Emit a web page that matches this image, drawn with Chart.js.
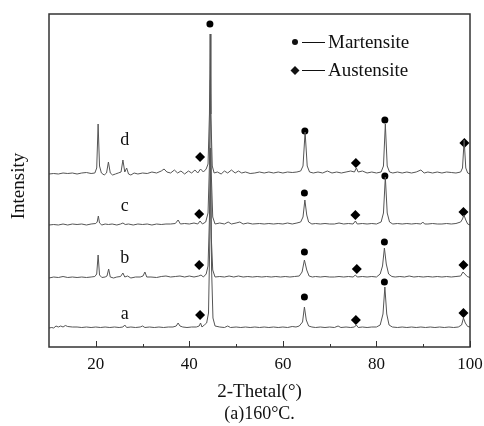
<!DOCTYPE html>
<html>
<head>
<meta charset="utf-8">
<script src="https://cdn.jsdelivr.net/npm/chart.js@4.4.1/dist/chart.umd.min.js"></script>
<style>
  html, body { margin: 0; padding: 0; background: #fff; }
  #xrd { display: block; }
</style>
</head>
<body>
<canvas id="xrd" width="484" height="426"></canvas>
<script>
// --- data (2θ, relative intensity above each pattern's own baseline) ---
const traceA = [
  [10,0],[10.6,0.5],[11,0],[11.5,2],[12,1],[12.5,2],[13,1],[13.5,2.5],[14,1.5],[15,1],[16,1],[17,0.5],[18,1],[19,0.5],
  [20,1],[21,0.5],[22,1],[23,0.5],[24,1],[25,0.5],[25.8,1],[26.2,3],[26.6,0.5],[27.5,1],[28.5,0.5],[29.5,1],[30,2],
  [30.5,0.5],[31.5,1],[32.5,0.5],[33.5,1],[34.5,0.5],[35.5,1],[36.5,1],[37.2,2],[37.6,5],[38,2],[38.6,1],[39.5,0.5],
  [40.5,1],[41.5,1],[42.1,2],[42.4,5],[42.7,1],[43.2,3],[43.7,5],[44.1,15],[44.35,80],[44.55,160],[44.75,60],[45.05,10],
  [45.5,2],[46.5,1],[47.5,0.5],[48.2,2],[48.8,0.5],[50,1],[51,0.5],[52,1],[53,0.5],[54,1],[55,0.5],[56,1],[57,0.5],
  [58,1],[59,0.5],[60,1],[61,0.5],[62,1.5],[62.8,1],[63.5,2],[64.2,6],[64.6,21],[65,8],[65.5,2],[66.2,1],[67,0.5],
  [68,1],[69,0.5],[70,1],[71,0.5],[71.8,2],[72.4,0.5],[73.5,1],[74.5,0.5],[75.3,1],[75.7,3],[76.1,0.5],[77,1],[78,0.5],
  [79,1],[80,1],[80.8,3],[81.4,14],[81.8,41],[82.2,14],[82.7,3],[83.4,1],[84.5,0.5],[85.5,1],[86.5,0.5],[87.5,1],
  [88.5,0.5],[89.5,1],[90.5,0.5],[91.5,1],[92.5,0.5],[93.5,1],[94.5,0.5],[95.5,1],[96.5,0.5],[97.5,1],[98.2,3],
  [98.6,10],[99,5],[99.5,1.5],[100,1]
];
const traceB = [
  [10,0],[11,1],[12,0.5],[13,1.5],[14,0.5],[15,1],[16,0.5],[17,1],[18,0.5],[19,1],[19.8,1.5],[20.2,4],[20.5,23],
  [20.8,3],[21.3,0.5],[22,1],[22.4,2],[22.75,9],[23.1,1],[23.8,0],[24.5,1],[25.3,1.5],[25.8,5],[26.2,1],[26.8,2],
  [27.5,0],[28.5,1],[29.5,1],[30.1,2],[30.5,6],[30.9,1],[31.8,1],[33,0.5],[34,1.5],[35,2],[36,1],[37,1.5],[38,2],
  [39,1],[40,2],[41,1],[42,2],[42.5,3],[43,1],[43.6,4],[44,12],[44.3,60],[44.5,130],[44.7,40],[45,8],[45.5,1],
  [46.5,1.5],[47.5,1],[48.5,2],[49.5,1],[50.5,2],[51.5,1],[52.5,1.5],[53.5,1],[54.5,1.5],[55.5,1],[56.5,1.5],[57.5,1],
  [58.5,1.5],[59.5,1],[60.5,1.5],[61.5,1],[62.5,1.5],[63.5,2],[64.1,6],[64.6,18],[65.1,8],[65.6,2],[66.3,1],[67,1.5],
  [68,1],[69,1.5],[70,1],[71,1],[72,1.5],[73,1],[74,1.5],[75,1],[75.5,3],[75.9,1],[77,1.5],[78,1],[79,1.5],[80,1],
  [80.8,4],[81.3,12],[81.7,30],[82.1,14],[82.6,4],[83.3,1.5],[84,1],[85,1.5],[86,1],[87,2],[88,1],[89,1.5],[90,1],
  [91,1.5],[92,1],[93,1.5],[94,1],[95,1.5],[96,1],[97,1.5],[98,2],[98.5,6],[98.9,4],[99.4,1.5],[100,0.5]
];
const traceC = [
  [10,0],[11,0.5],[12,0],[13,1],[14,0],[15,1],[16,0.5],[17,1],[18,0],[19,1],[20,1.5],[20.3,3],[20.55,9],[20.8,2],
  [21.3,0],[22,1],[22.7,0.5],[23.5,1],[24.5,0],[25.3,1],[25.8,2],[26.3,0.5],[27,1],[28,0],[29,1],[30,0.5],[31,1],
  [32,0],[33,1],[34,0.5],[35,1],[36,1],[37,1.5],[37.6,5],[38.1,1],[39,1.5],[40,1],[41,2],[41.8,1],[42.3,4],[42.8,1],
  [43.5,3],[44,12],[44.3,60],[44.5,145],[44.7,50],[45,8],[45.5,1],[46.5,2],[47.5,1],[48.3,3],[49,1],[50,2],[50.8,3],
  [51.5,1],[52.5,2],[53.5,1],[55,1.5],[56,1],[57,1.5],[58,1],[59,1.5],[60,1],[61,2],[62,1],[63,2],[63.8,3],[64.3,8],
  [64.7,25],[65.1,10],[65.5,3],[66.2,1],[67,1.5],[68,1],[69,1.5],[70,1],[71,1],[72,2],[73,1],[74,1.5],[75,1],
  [75.5,4],[75.9,1],[77,1.5],[78,1],[79,1.5],[80,1],[81,3],[81.5,12],[81.9,48],[82.3,12],[82.8,3],[83.5,1],
  [84.5,1.5],[85.5,1],[86.5,1.5],[87.5,1],[88.5,1.5],[89.5,1],[89.9,3],[90.3,1],[91,1],[92,1.5],[93,1],[94,1],
  [95,1.5],[96,1],[97,1.5],[98,3],[98.4,6],[98.7,10],[99.1,5],[99.5,1],[100,0]
];
const traceD = [
  [10,0],[11,0.5],[12,0],[13,1],[14,0.5],[15,1],[16,0],[17,1],[18,1.5],[19,0.5],[19.8,1],[20.2,6],[20.5,50],[20.8,8],
  [21.2,1],[21.8,-1],[22.3,1],[22.7,12],[23.1,1],[23.6,-1],[24.2,0],[24.8,1],[25.4,2],[25.8,14],[26.2,2],[26.6,6],
  [27,0],[27.5,-1],[28.2,1],[29,0],[30,1],[31,0.5],[32,2],[33,1],[34,3],[34.6,5],[35.2,2],[36,1],[36.8,4],[37.5,1],
  [38.2,3],[39,0],[39.8,3],[40.5,1],[41.2,4],[41.8,1],[42.4,5],[43,2],[43.6,5],[44,10],[44.3,60],[44.45,140],
  [44.6,60],[44.9,8],[45.3,1],[46,2],[46.8,0],[47.5,3],[48.2,1],[49,4],[49.8,1],[50.5,3],[51.2,1],[52,2],[53,0.5],
  [54,1],[55,2],[56,1],[57,2],[58,1],[59,2],[60,1],[61,2],[62,1.5],[63,2],[63.8,3],[64.3,8],[64.75,42],[65.2,8],
  [65.7,2],[66.5,1],[67.5,2],[68.5,1],[69.5,3],[70.5,1],[71.5,2],[72.5,1],[73.5,2],[74.5,3],[75.3,2],[75.7,6],
  [76.1,2],[77,3],[78,1],[79,2],[80,1],[81,2],[81.5,8],[81.9,50],[82.3,8],[82.8,2],[83.5,1],[84.5,2],[85.5,1],
  [86.5,2],[87.5,1],[88.5,2],[89.5,4],[90.2,1],[91,2],[92,1],[93,2],[94,1],[95,2],[96,1.5],[97,1],[98,2],[98.4,6],
  [98.75,34],[99.1,6],[99.5,1],[100,0]
];
const traceNames = ['a', 'b', 'c', 'd'];
const traceOffsets = [19, 69, 122, 173];

// phase markers (absolute plot units)
const martensitePts = [
  [44.4,323],
  [64.6,50],[81.7,65],
  [64.6,95],[81.7,105],
  [64.6,154],[81.8,171],
  [64.7,216],[81.8,227]
];
const austenitePts = [
  [42.3,32],[75.6,27],[98.6,34],
  [42.1,82],[75.8,78],[98.6,82],
  [42.1,133],[75.5,132],[98.6,135],
  [42.3,190],[75.6,184],[98.8,204]
];
const labelPos = [[26.2,33],[26.2,89],[26.2,141],[26.2,207]];
const majorTicks = [20, 40, 60, 80, 100];
const minorTicks = [30, 50, 70, 90];

const SERIF = '"Liberation Serif", "Times New Roman", serif';

function toPoints(arr, off) {
  return arr.map(p => ({ x: p[0], y: p[1] + off }));
}

const patterns = [traceA, traceB, traceC, traceD];
const datasets = patterns.map((tr, i) => ({
  label: traceNames[i],
  data: toPoints(tr, traceOffsets[i]),
  borderColor: '#555',
  borderWidth: 1,
  pointRadius: 0,
  tension: 0,
  fill: false
}));
datasets.push({
  label: 'Martensite',
  data: toPoints(martensitePts, 0),
  showLine: false,
  pointStyle: 'circle',
  pointRadius: 3.5,
  backgroundColor: '#000',
  borderColor: '#000',
  borderWidth: 0
});
datasets.push({
  label: 'Austensite',
  data: toPoints(austenitePts, 0),
  showLine: false,
  pointStyle: 'rectRot',
  pointRadius: 5,
  backgroundColor: '#000',
  borderColor: '#000',
  borderWidth: 0
});

// frame, inward ticks and all the texts
const decorations = {
  id: 'decorations',
  afterDraw(chart) {
    const { ctx, chartArea: a, scales } = chart;
    const xs = scales.x, ys = scales.y;
    ctx.save();

    ctx.strokeStyle = '#333';
    ctx.lineWidth = 1.5;
    ctx.strokeRect(a.left, a.top, a.right - a.left, a.bottom - a.top);

    ctx.lineWidth = 1;
    ctx.beginPath();
    majorTicks.forEach(v => {
      const px = Math.round(xs.getPixelForValue(v)) + 0.5;
      ctx.moveTo(px, a.bottom); ctx.lineTo(px, a.bottom - 6);
    });
    minorTicks.forEach(v => {
      const px = Math.round(xs.getPixelForValue(v)) + 0.5;
      ctx.moveTo(px, a.bottom); ctx.lineTo(px, a.bottom - 3);
    });
    ctx.stroke();

    ctx.fillStyle = '#111';
    ctx.textAlign = 'center';
    ctx.textBaseline = 'middle';
    ctx.font = '18px ' + SERIF;
    labelPos.forEach((p, i) => {
      ctx.fillText(traceNames[i], xs.getPixelForValue(p[0]), ys.getPixelForValue(p[1]));
    });

    // legend
    ctx.beginPath();
    ctx.arc(295, 42, 3, 0, Math.PI * 2);
    ctx.fill();
    ctx.beginPath();
    ctx.moveTo(295, 66); ctx.lineTo(299.5, 70.5); ctx.lineTo(295, 75); ctx.lineTo(290.5, 70.5);
    ctx.closePath();
    ctx.fill();
    ctx.strokeStyle = '#111';
    ctx.lineWidth = 1;
    ctx.beginPath();
    ctx.moveTo(302, 42.5); ctx.lineTo(325, 42.5);
    ctx.moveTo(302, 70.5); ctx.lineTo(325, 70.5);
    ctx.stroke();
    ctx.textAlign = 'left';
    ctx.font = '19px ' + SERIF;
    ctx.fillText('Martensite', 328, 43);
    ctx.fillText('Austensite', 328, 71);

    // axis titles and caption
    ctx.textAlign = 'center';
    ctx.textBaseline = 'alphabetic';
    ctx.font = '19px ' + SERIF;
    ctx.fillText('2-Thetal(°)', (a.left + a.right) / 2, 397);
    ctx.font = '18px ' + SERIF;
    ctx.fillText('(a)160°C.', (a.left + a.right) / 2, 419);

    ctx.save();
    ctx.translate(24, 186);
    ctx.rotate(-Math.PI / 2);
    ctx.font = '19px ' + SERIF;
    ctx.textBaseline = 'alphabetic';
    ctx.fillText('Intensity', 0, 0);
    ctx.restore();

    ctx.restore();
  }
};

new Chart(document.getElementById('xrd').getContext('2d'), {
  type: 'line',
  data: { datasets },
  plugins: [decorations],
  options: {
    responsive: false,
    animation: false,
    layout: { padding: { top: 14, right: 14, left: 49, bottom: 0 } },
    plugins: { legend: { display: false }, tooltip: { enabled: false } },
    scales: {
      x: {
        type: 'linear',
        min: 10,
        max: 100,
        afterFit: s => { s.height = 79; s.paddingLeft = 0; s.paddingRight = 0; },
        grid: { display: false, drawTicks: false },
        border: { display: false },
        ticks: {
          stepSize: 10,
          autoSkip: false,
          maxRotation: 0,
          padding: 7,
          color: '#111',
          font: { family: SERIF, size: 17 },
          callback: v => (v % 20 === 0 ? String(v) : '')
        }
      },
      y: { type: 'linear', min: 0, max: 333, display: false }
    }
  }
});
</script>
</body>
</html>
